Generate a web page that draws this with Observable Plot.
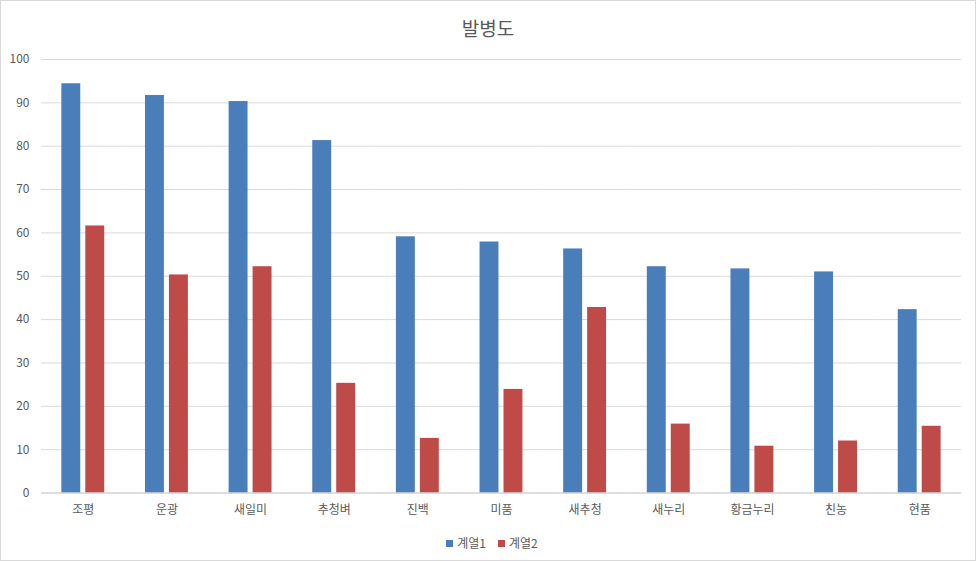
<!DOCTYPE html>
<html>
<head>
<meta charset="utf-8">
<script src="https://cdn.jsdelivr.net/npm/d3@7"></script>
<script src="https://cdn.jsdelivr.net/npm/@observablehq/plot@0.6"></script>
<style>
  html, body { margin: 0; padding: 0; background: #fff; }
  #wrap {
    position: relative; width: 976px; height: 561px; box-sizing: border-box;
    border: 1px solid #d9d9d9; overflow: hidden;
    font-family: "Noto Sans CJK KR", "Noto Sans", sans-serif; color: #595959;
  }
  #title { position: absolute; left: 0; top: 13px; width: 100%; text-align: center; font-size: 19px; line-height: 28px; }
  #chart { position: absolute; left: -1px; top: 43px; }
  #legend { position: absolute; left: 4px; top: 533px; width: 100%; display: flex; justify-content: center; gap: 12px; font-size: 12px; line-height: 18px; }
  #legend span.sw { display: inline-block; width: 7px; height: 7px; margin-right: 4px; vertical-align: 1px; }
</style>
</head>
<body>
<div id="wrap">
  <div id="title">발병도</div>
  <div id="chart"></div>
  <div id="legend"></div>
</div>
<script>
const categories = ["조평", "운광", "새일미", "추청벼", "진백", "미품", "새추청", "새누리", "황금누리", "친농", "현품"];
const seriesNames = ["계열1", "계열2"];
const series1 = [94.4, 91.7, 90.3, 81.3, 59.1, 57.9, 56.3, 52.2, 51.7, 51.0, 42.3];
const series2 = [61.6, 50.3, 52.2, 25.3, 12.6, 23.9, 42.8, 15.9, 10.8, 12.0, 15.4];
const colors = ["#4a7ebb", "#be4b48"];
const yTicks = [0, 10, 20, 30, 40, 50, 60, 70, 80, 90, 100];

const rows = [];
categories.forEach((c, i) => {
  rows.push({cat: c, series: seriesNames[0], value: series1[i]});
  rows.push({cat: c, series: seriesNames[1], value: series2[i]});
});

const chart = Plot.plot({
  width: 976,
  height: 480,
  marginLeft: 41,
  marginRight: 14,
  marginTop: 15,
  marginBottom: 31,
  style: {fontFamily: '"Noto Sans CJK KR", "Noto Sans", sans-serif', fontSize: "12px", color: "#595959", background: "transparent"},
  fx: {domain: categories, padding: 0, round: false, label: null, axis: "bottom", tickSize: 0, tickPadding: 12},
  x: {domain: seriesNames, axis: null, round: false, paddingInner: 0.21, paddingOuter: 0.85},
  y: {domain: [0, 100], ticks: yTicks, label: null, tickSize: 0, tickPadding: 12},
  color: {domain: seriesNames, range: colors},
  marks: [
    Plot.gridY(yTicks, {stroke: "#d9d9d9", strokeOpacity: 1}),
    Plot.barY(rows, {fx: "cat", x: "series", y: "value", fill: "series", inset: 0}),
    Plot.ruleY([0], {stroke: "#d0d0d0"})
  ]
});
document.getElementById("chart").appendChild(chart);

const legend = document.getElementById("legend");
seriesNames.forEach((n, i) => {
  const item = document.createElement("div");
  item.innerHTML = `<span class="sw" style="background:${colors[i]}"></span>${n}`;
  legend.appendChild(item);
});
</script>
</body>
</html>
